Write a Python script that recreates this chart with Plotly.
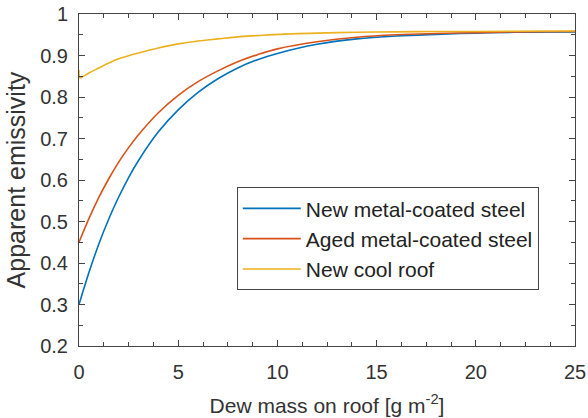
import plotly.graph_objects as go

# Dew mass on roof [g m^-2]
dew_mass = [0, 0.5, 1, 1.5, 2, 2.5, 3, 4, 5, 6, 7, 8, 9, 10, 12, 14, 16, 18, 20, 22, 25]

# Apparent emissivity
new_metal = [0.300, 0.377, 0.446, 0.506, 0.559, 0.606, 0.647, 0.716, 0.769, 0.811, 0.844,
             0.870, 0.890, 0.905, 0.927, 0.940, 0.947, 0.951, 0.954, 0.956, 0.957]
aged_metal = [0.450, 0.507, 0.558, 0.603, 0.643, 0.678, 0.709, 0.762, 0.804, 0.837, 0.863,
              0.885, 0.902, 0.916, 0.933, 0.944, 0.950, 0.953, 0.955, 0.957, 0.958]

cool_mass = [0, 0.05, 0.5, 1, 1.5, 2, 3, 4, 5, 6, 7, 8, 9, 10, 12, 14, 16, 18, 20, 25]
new_cool = [0.865, 0.846, 0.858, 0.870, 0.882, 0.892, 0.906, 0.918, 0.928, 0.935, 0.940,
            0.945, 0.948, 0.951, 0.954, 0.956, 0.957, 0.958, 0.958, 0.959]

names = ["New metal-coated steel", "Aged metal-coated steel", "New cool roof"]
colors = ["#0072BD", "#D95319", "#EDB120"]

fig = go.Figure()
fig.add_trace(go.Scatter(x=dew_mass, y=new_metal, mode="lines", name=names[0],
                         line=dict(color=colors[0], width=1.6, shape="spline", smoothing=1)))
fig.add_trace(go.Scatter(x=dew_mass, y=aged_metal, mode="lines", name=names[1],
                         line=dict(color=colors[1], width=1.6, shape="spline", smoothing=1)))
fig.add_trace(go.Scatter(x=cool_mass, y=new_cool, mode="lines", name=names[2],
                         line=dict(color=colors[2], width=1.6, shape="spline", smoothing=0.8)))

axis_col = "#444444"
fig.update_layout(
    width=588, height=418,
    margin=dict(l=79, r=13, t=14, b=72, autoexpand=False),
    paper_bgcolor="white", plot_bgcolor="white",
    font=dict(family="Liberation Sans, Arial, sans-serif", size=20, color="#333333"),
    showlegend=True,
    legend=dict(x=0.927, y=0.168, xanchor="right", yanchor="bottom",
                bgcolor="white", bordercolor=axis_col, borderwidth=1,
                font=dict(size=21, color="#222222"), tracegroupgap=0,
                itemwidth=58),
)
fig.update_xaxes(
    range=[0, 25], tickvals=[0, 5, 10, 15, 20, 25], automargin=False,
    showgrid=False, zeroline=False, showline=True, linecolor=axis_col, linewidth=1,
    mirror="ticks", ticks="inside", ticklen=6, tickcolor=axis_col,
    minor=dict(dtick=1.25, ticks="inside", ticklen=4, tickcolor=axis_col, showgrid=False),
    title=dict(text="Dew mass on roof [g m<sup>-2</sup>]", font=dict(size=21, color="#333333"), standoff=16),
    ticklabelstandoff=8,
)
fig.update_yaxes(
    range=[0.2, 1], tickvals=[0.2, 0.3, 0.4, 0.5, 0.6, 0.7, 0.8, 0.9, 1], automargin=False,
    ticktext=["0.2", "0.3", "0.4", "0.5", "0.6", "0.7", "0.8", "0.9", "1"],
    showgrid=False, zeroline=False, showline=True, linecolor=axis_col, linewidth=1,
    mirror="ticks", ticks="inside", ticklen=6, tickcolor=axis_col,
    minor=dict(dtick=0.05, ticks="inside", ticklen=4, tickcolor=axis_col, showgrid=False),
    title=dict(text="Apparent emissivity", font=dict(size=25, color="#333333"), standoff=7),
    ticklabelstandoff=6,
)

fig.write_html("out.html")
